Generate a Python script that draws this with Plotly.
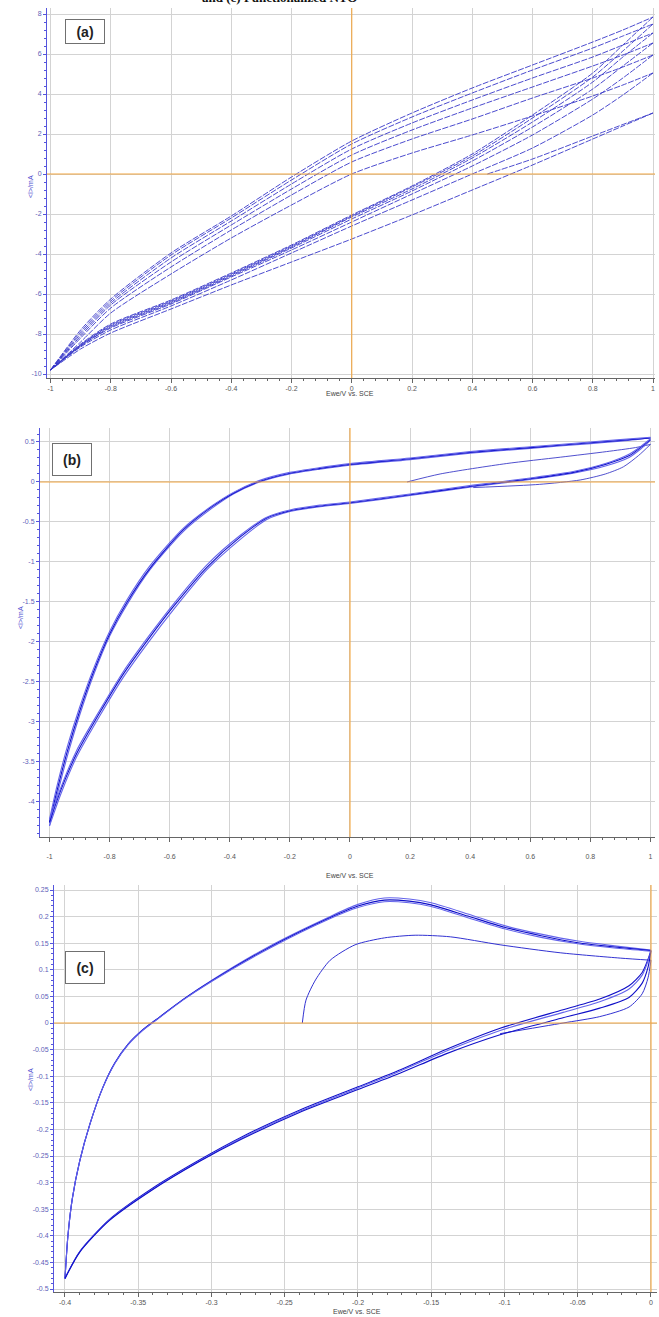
import plotly.graph_objects as go

W, H = 659, 1317

# ---------------- Panel (a) data ----------------
a_x = [-1.0, -0.9, -0.8, -0.6, -0.4, -0.2, 0.0, 0.2, 0.4, 0.6, 0.8, 0.9, 1.0]
a_forward_scans = [
    [-9.8, -8.4, -6.95, -5.0, -3.2, -1.55, 0.0, 1.05, 1.95, 2.9, 3.9, 4.45, 5.05],
    [-9.8, -8.2, -6.7, -4.65, -2.8, -1.05, 0.6, 1.75, 2.75, 3.8, 4.8, 5.35, 5.95],
    [-9.8, -8.1, -6.55, -4.4, -2.55, -0.75, 0.95, 2.2, 3.3, 4.35, 5.4, 5.95, 6.55],
    [-9.8, -8.0, -6.45, -4.2, -2.35, -0.5, 1.25, 2.55, 3.7, 4.8, 5.85, 6.45, 7.05],
    [-9.8, -7.9, -6.35, -4.05, -2.2, -0.3, 1.5, 2.85, 4.05, 5.2, 6.3, 6.9, 7.5],
    [-9.8, -7.8, -6.25, -3.95, -2.1, -0.15, 1.65, 3.05, 4.3, 5.45, 6.6, 7.2, 7.85],
]
a_reverse_scans = [
    [-9.8, -8.75, -7.95, -6.75, -5.55, -4.4, -3.25, -2.05, -0.8, 0.45, 1.75, 2.4, 3.05],
    [-9.8, -8.65, -7.8, -6.6, -5.3, -3.95, -2.6, -1.3, 0.0, 1.3, 2.95, 3.95, 5.05],
    [-9.8, -8.6, -7.7, -6.5, -5.15, -3.8, -2.4, -1.0, 0.4, 1.95, 3.75, 4.8, 5.95],
    [-9.8, -8.6, -7.65, -6.45, -5.1, -3.7, -2.25, -0.85, 0.65, 2.35, 4.25, 5.4, 6.55],
    [-9.8, -8.55, -7.6, -6.4, -5.05, -3.65, -2.15, -0.75, 0.8, 2.6, 4.6, 5.85, 7.05],
    [-9.8, -8.55, -7.55, -6.35, -5.0, -3.6, -2.1, -0.65, 0.9, 2.8, 4.85, 6.15, 7.5],
    [-9.8, -8.5, -7.5, -6.3, -4.95, -3.55, -2.05, -0.6, 1.0, 2.95, 5.05, 6.45, 7.85],
]
a_start_x = [0.45, 0.6, 0.8, 1.0]
a_start_y = [0.0, 0.75, 1.9, 3.05]

a_xticks = [-1, -0.8, -0.6, -0.4, -0.2, 0, 0.2, 0.4, 0.6, 0.8, 1]
a_xlabels = ["-1", "-0.8", "-0.6", "-0.4", "-0.2", "0", "0.2", "0.4", "0.6", "0.8", "1"]
a_yticks = [-10, -8, -6, -4, -2, 0, 2, 4, 6, 8]
a_ylabels = ["-10", "-8", "-6", "-4", "-2", "0", "2", "4", "6", "8"]

# ---------------- Panel (b) data ----------------
b_fwd_x = [-1.0, -0.975, -0.94, -0.9, -0.854, -0.8, -0.743, -0.666, -0.555,
           -0.46, -0.388, -0.3, -0.2, -0.1, 0.0, 0.2, 0.4, 0.6, 0.8, 0.9, 1.0]
b_fwd_y1 = [-4.3, -3.92, -3.42, -2.92, -2.42, -1.93, -1.54, -1.1, -0.62,
            -0.33, -0.15, 0.0, 0.1, 0.16, 0.21, 0.28, 0.36, 0.42, 0.48, 0.51, 0.55]
b_fwd_y2 = [-4.26, -3.86, -3.36, -2.87, -2.38, -1.9, -1.51, -1.08, -0.6,
            -0.31, -0.14, 0.01, 0.11, 0.17, 0.22, 0.29, 0.37, 0.43, 0.49, 0.52, 0.55]
b_fwd_y3 = [-4.22, -3.8, -3.3, -2.82, -2.34, -1.87, -1.48, -1.05, -0.58,
            -0.3, -0.13, 0.02, 0.12, 0.18, 0.23, 0.3, 0.38, 0.44, 0.5, 0.53, 0.56]
b_rev_x = [1.0, 0.97, 0.93, 0.85, 0.743, 0.6, 0.41, 0.2, 0.0, -0.1, -0.2, -0.277,
           -0.366, -0.477, -0.588, -0.666, -0.754, -0.832, -0.91, -0.96, -1.0]
b_rev_y1 = [0.52, 0.42, 0.31, 0.2, 0.11, 0.03, -0.06, -0.17, -0.27, -0.31, -0.37, -0.47,
            -0.72, -1.1, -1.6, -1.98, -2.44, -2.92, -3.44, -3.88, -4.3]
b_rev_y2 = [0.53, 0.44, 0.33, 0.22, 0.12, 0.04, -0.05, -0.16, -0.26, -0.3, -0.36, -0.45,
            -0.69, -1.07, -1.56, -1.94, -2.4, -2.88, -3.4, -3.83, -4.25]
b_rev_y3 = [0.54, 0.45, 0.35, 0.23, 0.13, 0.05, -0.04, -0.15, -0.25, -0.29, -0.35, -0.44,
            -0.67, -1.04, -1.53, -1.91, -2.37, -2.85, -3.36, -3.8, -4.22]
b_start_x = [0.19, 0.3, 0.52, 0.7, 0.854, 0.95, 1.0]
b_start_y = [0.0, 0.1, 0.23, 0.31, 0.38, 0.43, 0.47]
b_first_rev_x = [1.0, 0.96, 0.91, 0.85, 0.766, 0.63, 0.41]
b_first_rev_y = [0.47, 0.33, 0.19, 0.1, 0.025, -0.03, -0.07]

b_xticks = [-1, -0.8, -0.6, -0.4, -0.2, 0, 0.2, 0.4, 0.6, 0.8, 1]
b_xlabels = ["-1", "-0.8", "-0.6", "-0.4", "-0.2", "0", "0.2", "0.4", "0.6", "0.8", "1"]
b_yticks = [-4, -3.5, -3, -2.5, -2, -1.5, -1, -0.5, 0, 0.5]
b_ylabels = ["-4", "-3.5", "-3", "-2.5", "-2", "-1.5", "-1", "-0.5", "0", "0.5"]

# ---------------- Panel (c) data ----------------
c_fwd_x = [-0.4, -0.398, -0.395, -0.39, -0.383, -0.374, -0.366, -0.357, -0.347, -0.335,
           -0.32, -0.3, -0.26, -0.22, -0.2, -0.182, -0.165, -0.15, -0.125, -0.1,
           -0.075, -0.05, -0.025, 0.0]
c_fwd_y1 = [-0.48, -0.4, -0.33, -0.26, -0.19, -0.12, -0.075, -0.04, -0.013, 0.012,
            0.043, 0.08, 0.145, 0.199, 0.223, 0.235, 0.233, 0.226, 0.205, 0.183,
            0.167, 0.154, 0.145, 0.137]
c_fwd_y2 = [-0.48, -0.4, -0.33, -0.26, -0.19, -0.12, -0.075, -0.04, -0.013, 0.012,
            0.043, 0.079, 0.143, 0.197, 0.22, 0.231, 0.229, 0.222, 0.201, 0.18,
            0.164, 0.151, 0.143, 0.136]
c_fwd_y3 = [-0.48, -0.4, -0.33, -0.26, -0.19, -0.12, -0.076, -0.041, -0.014, 0.011,
            0.042, 0.078, 0.141, 0.195, 0.217, 0.228, 0.226, 0.219, 0.198, 0.177,
            0.161, 0.149, 0.141, 0.135]
c_rev_x = [0.0, -0.002, -0.006, -0.015, -0.035, -0.06, -0.103, -0.14, -0.171, -0.2,
           -0.24, -0.28, -0.308, -0.34, -0.37, -0.39, -0.4]
c_rev_y1 = [0.137, 0.12, 0.095, 0.07, 0.045, 0.025, -0.01, -0.05, -0.088, -0.12,
            -0.164, -0.215, -0.257, -0.31, -0.37, -0.43, -0.48]
c_rev_y2 = [0.136, 0.117, 0.09, 0.064, 0.04, 0.02, -0.014, -0.053, -0.09, -0.122,
            -0.166, -0.217, -0.259, -0.312, -0.371, -0.43, -0.48]
c_rev_y3 = [0.135, 0.105, 0.075, 0.048, 0.028, 0.01, -0.022, -0.058, -0.094, -0.125,
            -0.168, -0.219, -0.26, -0.313, -0.372, -0.431, -0.48]
c_start_x = [-0.238, -0.2355, -0.229, -0.219, -0.202, -0.182, -0.161, -0.137, -0.103,
             -0.062, -0.021, 0.0]
c_start_y = [0.0, 0.043, 0.081, 0.118, 0.147, 0.16, 0.165, 0.162, 0.147, 0.132, 0.122, 0.118]
c_first_rev_x = [0.0, -0.002, -0.006, -0.015, -0.035, -0.06, -0.103]
c_first_rev_y = [0.118, 0.085, 0.055, 0.03, 0.012, 0.0, -0.02]

c_xticks = [-0.4, -0.35, -0.3, -0.25, -0.2, -0.15, -0.1, -0.05, 0]
c_xlabels = ["-0.4", "-0.35", "-0.3", "-0.25", "-0.2", "-0.15", "-0.1", "-0.05", "0"]
c_yticks = [-0.5, -0.45, -0.4, -0.35, -0.3, -0.25, -0.2, -0.15, -0.1, -0.05,
            0, 0.05, 0.1, 0.15, 0.2, 0.25]
c_ylabels = ["-0.5", "-0.45", "-0.4", "-0.35", "-0.3", "-0.25", "-0.2", "-0.15", "-0.1",
             "-0.05", "0", "0.05", "0.1", "0.15", "0.2", "0.25"]

x_title = "Ewe/V vs. SCE"
y_title = "&lt;I&gt;/mA"

# ---------------- figure ----------------
fig = go.Figure()


def add(xs, ys, ax, color, width, dash=None):
    fig.add_trace(go.Scatter(
        x=xs, y=ys, mode="lines", xaxis="x" + ax, yaxis="y" + ax,
        line=dict(color=color, width=width, dash=dash, shape="spline", smoothing=0.7),
        hoverinfo="skip", showlegend=False))


A_COL = "rgb(55,55,200)"
add(a_start_x, a_start_y, "", A_COL, 0.9, "6px,1.5px")
for ys in a_reverse_scans:
    add(a_x[::-1], ys[::-1], "", A_COL, 0.9, "6px,1.5px")
for ys in a_forward_scans:
    add(a_x, ys, "", A_COL, 0.9, "6px,1.5px")

B_DARK = "rgb(15,15,200)"
B_LIGHT = "rgb(100,100,235)"
add(b_start_x, b_start_y, "2", "rgb(60,60,200)", 0.9)
add(b_first_rev_x, b_first_rev_y, "2", "rgb(60,60,200)", 0.9)
for ys, col in [(b_fwd_y1, B_LIGHT), (b_fwd_y2, B_DARK), (b_fwd_y3, B_LIGHT)]:
    add(b_fwd_x, ys, "2", col, 1.1)
for ys, col in [(b_rev_y1, B_LIGHT), (b_rev_y2, B_DARK), (b_rev_y3, B_LIGHT)]:
    add(b_rev_x, ys, "2", col, 1.1)

add(c_start_x, c_start_y, "3", "rgb(50,50,210)", 1.0)
add(c_first_rev_x, c_first_rev_y, "3", "rgb(50,50,210)", 1.0)
for ys, col in [(c_fwd_y1, B_LIGHT), (c_fwd_y2, B_DARK), (c_fwd_y3, B_LIGHT)]:
    add(c_fwd_x, ys, "3", col, 1.1)
for ys, col in [(c_rev_y1, B_DARK), (c_rev_y2, B_LIGHT), (c_rev_y3, B_DARK)]:
    add(c_rev_x, ys, "3", col, 1.1)

GRID = "#d3d3d3"
ORANGE = "#f2a640"
XLINE = "#666666"
YLINE = "#5555dd"


def xax(dom, rng, anchor, tv, tt, minor_dt, standoff):
    return dict(domain=[dom[0] / W, dom[1] / W], range=rng, anchor=anchor,
                tickmode="array", tickvals=tv, ticktext=tt,
                showgrid=True, gridcolor=GRID, gridwidth=1, zeroline=False,
                showline=True, linecolor=XLINE, linewidth=1,
                ticks="outside", ticklen=4, tickcolor=XLINE, tickwidth=1,
                ticklabelstandoff=standoff,
                tickfont=dict(size=7, color="#555555", family="Liberation Sans"),
                minor=dict(ticks="outside", ticklen=2, tickcolor=XLINE, dtick=minor_dt,
                           tick0=0, showgrid=False),
                fixedrange=True)


def yax(dom, rng, anchor, tv, tt, minor_dt):
    return dict(domain=[1 - dom[1] / H, 1 - dom[0] / H], range=rng, anchor=anchor,
                tickmode="array", tickvals=tv, ticktext=tt,
                showgrid=True, gridcolor=GRID, gridwidth=1, zeroline=False,
                showline=True, linecolor=YLINE, linewidth=1,
                ticks="outside", ticklen=3, tickcolor=YLINE, tickwidth=1,
                tickfont=dict(size=7, color="#6060b8", family="Liberation Sans"),
                minor=dict(ticks="outside", ticklen=2, tickcolor=YLINE, dtick=minor_dt,
                           tick0=0, showgrid=False),
                fixedrange=True)


fig.update_layout(
    width=W, height=H, autosize=False,
    margin=dict(l=0, r=0, t=0, b=0),
    paper_bgcolor="white", plot_bgcolor="white",
    xaxis=xax((47, 655), [-1.0116, 1.0066], "y", a_xticks, a_xlabels, 0.04, 0),
    yaxis=yax((8, 378), [-10.2, 8.3], "x", a_yticks, a_ylabels, 0.4),
    xaxis2=xax((40, 655), [-1.0316, 1.015], "y2", b_xticks, b_xlabels, 0.04, 9),
    yaxis2=yax((428, 837), [-4.44, 0.675], "x2", b_yticks, b_ylabels, 0.1),
    xaxis3=xax((54, 657), [-0.4075, 0.0041], "y3", c_xticks, c_xlabels, 0.01, 0),
    yaxis3=yax((885, 1292), [-0.5056, 0.2594], "x3", c_yticks, c_ylabels, 0.01),
)

# orange zero lines (drawn through the axes' own scales)
shapes = []
for ax in ["", "2", "3"]:
    shapes.append(dict(type="line", xref="x" + ax + " domain", yref="y" + ax,
                       x0=0, x1=1, y0=0, y1=0, layer="above",
                       line=dict(color=ORANGE, width=1.1)))
    shapes.append(dict(type="line", xref="x" + ax, yref="y" + ax + " domain",
                       x0=0, x1=0, y0=0, y1=1, layer="above",
                       line=dict(color=ORANGE, width=1.1)))
fig.update_layout(shapes=shapes)

ann = []


def px(xp, yp):
    return xp / W, 1 - yp / H


# cut-off caption at the very top
cx, cy = px(200, 7)
ann.append(dict(x=cx, y=cy, xref="paper", yref="paper", xanchor="left", yanchor="bottom",
                text="<b>and (c) Functionalized NTO</b>", showarrow=False,
                font=dict(family="Liberation Serif", size=13, color="#111111")))

# panel labels
for lab, (lx, ly), (bw, bh) in [("(a)", (85, 31.5), (36, 21)),
                                ("(b)", (72, 459), (36, 29)),
                                ("(c)", (85, 967), (36, 29))]:
    x0, y0 = px(lx, ly)
    ann.append(dict(x=x0, y=y0, xref="paper", yref="paper", xanchor="center",
                    yanchor="middle", text="<b>" + lab + "</b>", showarrow=False,
                    width=bw, height=bh, bgcolor="white", bordercolor="#707070",
                    borderwidth=1, borderpad=1,
                    font=dict(family="Liberation Sans", size=14, color="#222222")))

# axis titles
for (tx, ty) in [(350, 393), (350, 875), (357, 1311)]:
    x0, y0 = px(tx, ty)
    ann.append(dict(x=x0, y=y0, xref="paper", yref="paper", xanchor="center",
                    yanchor="middle", text=x_title, showarrow=False,
                    font=dict(family="Liberation Sans", size=7, color="#444444")))
for (tx, ty) in [(30, 187), (20, 618), (30, 1080)]:
    x0, y0 = px(tx, ty)
    ann.append(dict(x=x0, y=y0, xref="paper", yref="paper", xanchor="center",
                    yanchor="middle", text=y_title, showarrow=False, textangle=-90,
                    font=dict(family="Liberation Sans", size=7, color="#5050d0")))

fig.update_layout(annotations=ann)

fig.write_html("out.html", config={"displayModeBar": False},
               post_script="document.body.style.margin='0';")
